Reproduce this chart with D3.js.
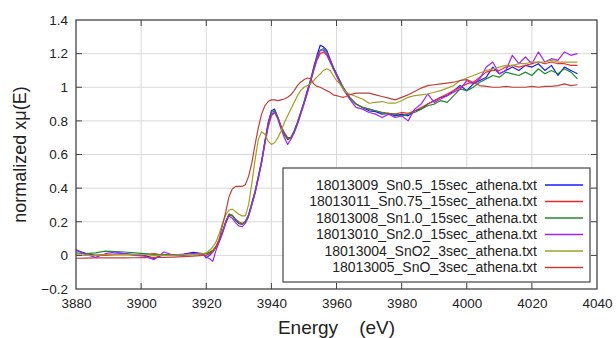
<!DOCTYPE html>
<html>
<head>
<meta charset="utf-8">
<script src="https://cdn.jsdelivr.net/npm/d3@7"></script>
<style>
  body { margin: 0; background: #fff; }
  svg { display: block; font-family: "Liberation Sans", Arial, sans-serif; }
</style>
</head>
<body>
<div id="chart"></div>
<script>
// energy grid (eV): pre-edge every 3, edge every 1, post-edge every 2
const energy = [].concat(
    d3.range(3880, 3920, 3),
    d3.range(3920, 3965, 1),
    d3.range(3966, 4035, 2)
);

const sn05 = [
    0.03, 0.012, 0.0, 0.005, 0.008, 0.01, 0.005, 0.0, -0.018, 0.005, 0.002, 0.008, 0.018, 0.01,
    -0.015, 0.0, 0.02, 0.05, 0.09, 0.14, 0.2, 0.245, 0.235, 0.21, 0.19, 0.185, 0.2, 0.24, 0.31,
    0.38, 0.47, 0.56, 0.68, 0.79, 0.86, 0.87, 0.82, 0.76, 0.72, 0.69, 0.7, 0.74, 0.79, 0.85,
    0.91, 0.98, 1.04, 1.12, 1.19, 1.25, 1.24, 1.22, 1.17, 1.12, 1.08, 1.04, 1.0, 0.97, 0.94,
    0.9, 0.88, 0.86, 0.855, 0.84, 0.845, 0.83, 0.84, 0.83, 0.86,
    0.87, 0.9, 0.92, 0.94, 0.95, 0.98, 1.01, 0.98, 1.02, 1.04,
    1.06, 1.12, 1.08, 1.1, 1.12, 1.1, 1.13, 1.12, 1.14, 1.1,
    1.13, 1.07, 1.12, 1.1, 1.08
];
const sn075 = [
    0.0, 0.0, 0.0, 0.0, 0.005, 0.005, 0.005, 0.005, 0.01, 0.0, 0.005, 0.005, 0.01, 0.01,
    0.01, 0.015, 0.025, 0.05, 0.09, 0.14, 0.2, 0.24, 0.235, 0.215, 0.2, 0.19, 0.2, 0.235, 0.3,
    0.37, 0.46, 0.55, 0.66, 0.76, 0.83, 0.85, 0.82, 0.77, 0.73, 0.7, 0.7, 0.73, 0.78, 0.84,
    0.9, 0.96, 1.03, 1.1, 1.16, 1.2, 1.21, 1.19, 1.15, 1.11, 1.07, 1.03, 1.0, 0.97, 0.94,
    0.9, 0.88, 0.87, 0.86, 0.85, 0.845, 0.84, 0.85, 0.845, 0.86,
    0.88, 0.9, 0.92, 0.94, 0.96, 0.98, 1.0, 1.02, 1.03, 1.06,
    1.09, 1.1, 1.1, 1.12, 1.13, 1.12, 1.13, 1.14, 1.15, 1.14,
    1.15, 1.14, 1.14, 1.13, 1.13
];
const sn10 = [
    0.015, 0.01, 0.015, 0.025, 0.022, 0.02, 0.015, 0.01, 0.005, 0.005, 0.005, 0.005, 0.005, 0.01,
    0.01, 0.02, 0.03, 0.055, 0.09, 0.14, 0.2, 0.245, 0.24, 0.215, 0.19, 0.185, 0.2, 0.24, 0.31,
    0.38, 0.47, 0.56, 0.67, 0.78, 0.85, 0.86, 0.82, 0.76, 0.72, 0.69, 0.7, 0.74, 0.79, 0.85,
    0.91, 0.97, 1.04, 1.11, 1.18, 1.22, 1.23, 1.21, 1.16, 1.12, 1.08, 1.04, 1.0, 0.97, 0.94,
    0.9, 0.88, 0.87, 0.86, 0.85, 0.84, 0.84, 0.83, 0.84, 0.85,
    0.87, 0.89, 0.9, 0.92, 0.91, 0.95, 0.99, 0.98, 1.0, 1.03,
    1.05, 1.07, 1.06, 1.09, 1.08, 1.07, 1.09, 1.07, 1.11, 1.08,
    1.1, 1.08, 1.11, 1.09, 1.05
];
const sn20 = [
    0.035, 0.005, -0.012, 0.01, 0.02, 0.01, 0.0, -0.005, -0.025, 0.02, 0.0, 0.0, 0.01, 0.005,
    -0.01, -0.02, -0.035, 0.03, 0.08, 0.13, 0.19, 0.235, 0.22, 0.195, 0.175, 0.17, 0.19, 0.23, 0.3,
    0.37, 0.46, 0.55, 0.67, 0.78, 0.84, 0.85, 0.81, 0.75, 0.7, 0.66, 0.69, 0.73, 0.78, 0.84,
    0.9, 0.97, 1.03, 1.1, 1.17, 1.22, 1.22, 1.2, 1.16, 1.11, 1.07, 1.03, 0.99, 0.96, 0.93,
    0.88, 0.87, 0.85, 0.84, 0.82, 0.84, 0.82, 0.83, 0.8, 0.87,
    0.9, 0.96, 0.91, 0.93, 0.95, 0.97, 0.99, 1.04, 1.02, 1.05,
    1.12, 1.15, 1.08, 1.1, 1.19, 1.14, 1.18, 1.14, 1.21, 1.15,
    1.17, 1.16, 1.21, 1.19, 1.2
];
const sno2 = [
    0.0, 0.0, 0.0, 0.005, 0.005, 0.005, 0.005, 0.005, 0.0, 0.0, 0.0, 0.005, 0.005, 0.01,
    0.015, 0.03, 0.05, 0.08, 0.13, 0.19, 0.24, 0.27, 0.275, 0.26, 0.245, 0.235, 0.235, 0.3, 0.43,
    0.57, 0.69, 0.735, 0.72, 0.68, 0.66, 0.67, 0.7, 0.74, 0.79, 0.83, 0.87, 0.91, 0.95, 0.98,
    1.0, 1.01, 1.02, 1.04, 1.06, 1.08, 1.1, 1.11, 1.1, 1.07, 1.04, 1.02, 0.99, 0.97, 0.96,
    0.945, 0.93, 0.905, 0.91, 0.915, 0.905, 0.905, 0.92, 0.94, 0.95,
    0.955, 0.96, 0.97, 0.98, 0.995, 1.01, 1.04, 1.055, 1.07, 1.085,
    1.1, 1.11, 1.12, 1.13, 1.13, 1.14, 1.14, 1.15, 1.15, 1.15,
    1.16, 1.15, 1.15, 1.15, 1.15
];
const sno = [
    -0.017, -0.016, -0.015, -0.015, -0.015, -0.015, -0.014, -0.013, -0.012, -0.012, -0.01, -0.008, -0.005, 0.0,
    0.0, 0.01, 0.02, 0.05, 0.1, 0.18, 0.26, 0.35, 0.395, 0.41, 0.41, 0.41, 0.42, 0.47, 0.55,
    0.66, 0.76, 0.84, 0.89, 0.915, 0.925, 0.925, 0.92, 0.925, 0.93, 0.94, 0.955, 0.98, 1.01, 1.03,
    1.045, 1.055, 1.05, 1.02, 1.005, 1.0, 0.99, 0.98, 0.97, 0.955, 0.95, 0.945, 0.94, 0.945, 0.955,
    0.965, 0.965, 0.965, 0.955, 0.945, 0.935, 0.925, 0.94, 0.955, 0.975,
    0.995, 1.01, 1.015, 1.02, 1.025, 1.03, 1.04, 1.045, 1.03, 1.01,
    1.005, 1.0, 1.0, 1.005, 1.0, 1.0, 1.0, 1.005, 1.0, 1.005,
    1.005, 1.01, 1.02, 1.01, 1.015
];

const seriesNames = [
    "18013009_Sn0.5_15sec_athena.txt",
    "18013011_Sn0.75_15sec_athena.txt",
    "18013008_Sn1.0_15sec_athena.txt",
    "18013010_Sn2.0_15sec_athena.txt",
    "18013004_SnO2_3sec_athena.txt",
    "18013005_SnO_3sec_athena.txt"
];
const seriesValues = [sn05, sn075, sn10, sn20, sno2, sno];
const seriesColors = ["#1a1aff", "#ee2a2a", "#208a2a", "#a024f0", "#a3a028", "#c0403c"];

const xTicks = [3880, 3900, 3920, 3940, 3960, 3980, 4000, 4020, 4040];
const yTicks = [-0.2, 0, 0.2, 0.4, 0.6, 0.8, 1, 1.2, 1.4];

const width = 616;
const height = 338;
const margin = { top: 20, right: 19, bottom: 49, left: 76 };
const innerWidth = width - margin.left - margin.right;
const innerHeight = height - margin.top - margin.bottom;

const svg = d3.select("#chart")
    .append("svg")
    .attr("width", width)
    .attr("height", height);

const x = d3.scaleLinear().domain([3880, 4040]).range([0, innerWidth]);
const y = d3.scaleLinear().domain([-0.2, 1.4]).range([innerHeight, 0]);

const graph = svg.append("g")
    .attr("transform", `translate(${margin.left},${margin.top})`);

// grid
graph.append("g")
    .selectAll("line")
    .data(xTicks.slice(1, -1))
    .join("line")
    .attr("x1", d => x(d)).attr("x2", d => x(d))
    .attr("y1", 0).attr("y2", innerHeight)
    .attr("stroke", "#d9d9d9");
graph.append("g")
    .selectAll("line")
    .data(yTicks.slice(1, -1))
    .join("line")
    .attr("y1", d => y(d)).attr("y2", d => y(d))
    .attr("x1", 0).attr("x2", innerWidth)
    .attr("stroke", "#d9d9d9");

// axes (labels only, ticks drawn inward below)
const fmtY = d => (d === 0 || d === 1) ? String(d) : d3.format(".1f")(d);
const xAxis = graph.append("g")
    .attr("transform", `translate(0,${innerHeight})`)
    .call(d3.axisBottom(x).tickValues(xTicks).tickSize(0).tickPadding(9).tickFormat(d3.format("d")));
const yAxis = graph.append("g")
    .call(d3.axisLeft(y).tickValues(yTicks).tickSize(0).tickPadding(8).tickFormat(fmtY));
[xAxis, yAxis].forEach(a => {
    a.select(".domain").remove();
    a.selectAll("text")
        .attr("font-size", "13.5px")
        .attr("font-family", "Liberation Sans, Arial, sans-serif")
        .attr("fill", "#222");
});

// curves
graph.append("clipPath").attr("id", "clip")
    .append("rect").attr("width", innerWidth).attr("height", innerHeight);

const line = d3.line()
    .x((d, i) => x(energy[i]))
    .y(d => y(d));

graph.append("g")
    .attr("clip-path", "url(#clip)")
    .selectAll("path")
    .data(seriesValues)
    .join("path")
    .attr("d", line)
    .attr("fill", "none")
    .attr("stroke", (d, i) => seriesColors[i])
    .attr("stroke-width", 1.2)
    .attr("stroke-linejoin", "round");

// inward ticks on all four sides
const tickLen = 6;
const ticks = graph.append("g").attr("stroke", "#444");
xTicks.slice(1, -1).forEach(t => {
    ticks.append("line").attr("x1", x(t)).attr("x2", x(t)).attr("y1", 0).attr("y2", tickLen);
    ticks.append("line").attr("x1", x(t)).attr("x2", x(t)).attr("y1", innerHeight).attr("y2", innerHeight - tickLen);
});
yTicks.slice(1, -1).forEach(t => {
    ticks.append("line").attr("y1", y(t)).attr("y2", y(t)).attr("x1", 0).attr("x2", tickLen);
    ticks.append("line").attr("y1", y(t)).attr("y2", y(t)).attr("x1", innerWidth).attr("x2", innerWidth - tickLen);
});

// legend box, bottom right inside the plot
const legend = graph.append("g")
    .attr("transform", "translate(207,148)");
legend.append("rect")
    .attr("width", 307)
    .attr("height", 114)
    .attr("fill", "#fff")
    .attr("stroke", "#444")
    .attr("stroke-width", 1.2);
const rows = legend.selectAll("g.row")
    .data(seriesNames)
    .join("g")
    .attr("class", "row")
    .attr("transform", (d, i) => `translate(0,${17 + i * 16.5})`);
rows.append("text")
    .attr("x", 254)
    .attr("dy", "0.35em")
    .attr("text-anchor", "end")
    .attr("font-size", "14px")
    .attr("fill", "#222")
    .text(d => d);
rows.append("line")
    .attr("x1", 262).attr("x2", 300)
    .attr("stroke", (d, i) => seriesColors[i])
    .attr("stroke-width", 1.3);

// plot border
graph.append("rect")
    .attr("width", innerWidth)
    .attr("height", innerHeight)
    .attr("fill", "none")
    .attr("stroke", "#444")
    .attr("stroke-width", 1.3);

// axis titles
svg.append("text")
    .attr("transform", `translate(26,${margin.top + innerHeight / 2}) rotate(-90)`)
    .attr("text-anchor", "middle")
    .attr("font-size", "18px")
    .attr("fill", "#222")
    .text("normalized xμ(E)");
svg.append("text")
    .attr("x", margin.left + innerWidth / 2)
    .attr("y", 334)
    .attr("text-anchor", "middle")
    .attr("font-size", "19px")
    .attr("fill", "#222")
    .style("white-space", "pre")
    .text("Energy    (eV)");
</script>
</body>
</html>
